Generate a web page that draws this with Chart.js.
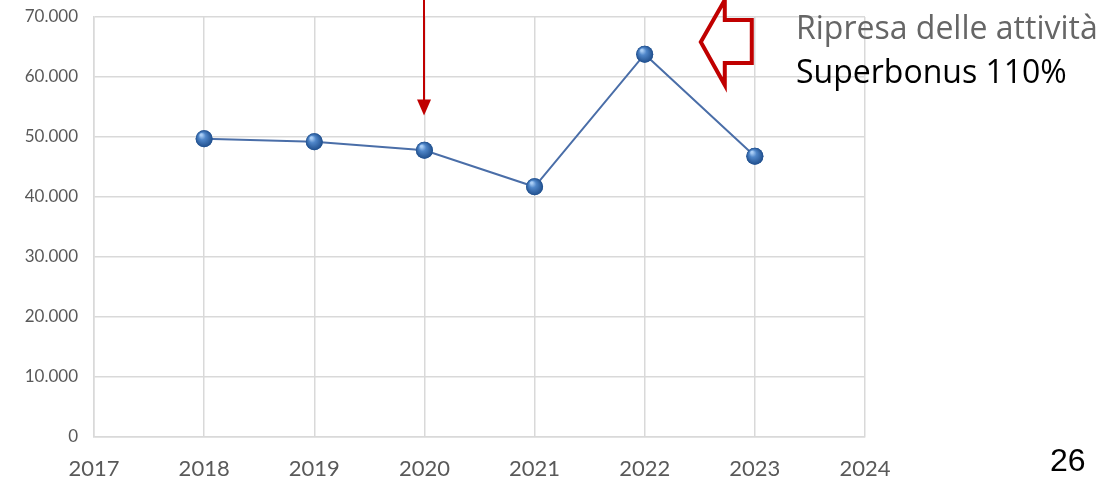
<!DOCTYPE html>
<html>
<head>
<meta charset="utf-8">
<script src="https://cdn.jsdelivr.net/npm/chart.js@4"></script>
<style>
  html, body { margin: 0; padding: 0; background: #fff; }
  #wrap { position: relative; width: 1117px; height: 482px; overflow: hidden; }
  #chart { position: absolute; left: 0; top: 0; }
  .note { position: absolute; font-family: "Open Sans", sans-serif; font-size: 32px; line-height: 1.362; white-space: nowrap; }
  .page { position: absolute; font-family: "Liberation Sans", Arial, sans-serif; font-size: 32px; color: #000; }
</style>
</head>
<body>
<div id="wrap">
  <canvas id="chart" width="1117" height="482"></canvas>
  <div class="note" style="left:796px; top:5px; color:#666;">Ripresa delle attività</div>
  <div class="note" style="left:796px; top:49px; color:#000;">Superbonus 110%</div>
  <div class="page" style="left:1050px; top:442px;">26</div>
</div>
<script>
  // yearly values
  const years = [2018, 2019, 2020, 2021, 2022, 2023];
  const values = [49700, 49200, 47800, 41700, 63800, 46800];
  const xMin = 2017, xMax = 2024;
  const yMin = 0, yMax = 70000, yStep = 10000;
  const markedYear = 2020;

  const gridColor = '#d9d9d9';
  const tickColor = '#595959';
  const red = '#c00000';

  function itNumber(v) {
    return String(v).replace(/\B(?=(\d{3})+(?!\d))/g, '.');
  }

  // glossy sphere markers on top of the plain points
  const spheres = {
    id: 'spheres',
    afterDatasetsDraw(chart) {
      const ctx = chart.ctx;
      chart.getDatasetMeta(0).data.forEach((pt) => {
        const r = 8.5;
        const g = ctx.createRadialGradient(pt.x - 3, pt.y - 4, 1, pt.x, pt.y, r);
        g.addColorStop(0, '#a9cdf5');
        g.addColorStop(0.35, '#4f86c9');
        g.addColorStop(1, '#1f4e8c');
        ctx.save();
        ctx.beginPath();
        ctx.arc(pt.x, pt.y, r, 0, Math.PI * 2);
        ctx.fillStyle = g;
        ctx.fill();
        ctx.restore();
      });
    }
  };

  // red callouts: down arrow on the marked year, outlined block arrow near the peak
  const callouts = {
    id: 'callouts',
    afterDraw(chart) {
      const ctx = chart.ctx;
      const xs = chart.scales.x, ys = chart.scales.y;
      const ax = Math.round(xs.getPixelForValue(markedYear));
      const tip = ys.getPixelForValue(53600);
      ctx.save();
      ctx.strokeStyle = red;
      ctx.fillStyle = red;
      ctx.lineWidth = 2;
      ctx.beginPath();
      ctx.moveTo(ax, 0);
      ctx.lineTo(ax, tip - 15);
      ctx.stroke();
      ctx.beginPath();
      ctx.moveTo(ax - 7, tip - 16);
      ctx.lineTo(ax + 7, tip - 16);
      ctx.lineTo(ax, tip);
      ctx.closePath();
      ctx.fill();

      const bx = xs.getPixelForValue(2022.5);
      ctx.lineWidth = 4;
      ctx.lineJoin = 'miter';
      ctx.beginPath();
      ctx.moveTo(bx + 1, 42);
      ctx.lineTo(bx + 25, 0);
      ctx.lineTo(bx + 25, 20);
      ctx.lineTo(bx + 52, 20);
      ctx.lineTo(bx + 52, 63);
      ctx.lineTo(bx + 25, 63);
      ctx.lineTo(bx + 25, 85);
      ctx.closePath();
      ctx.stroke();
      ctx.restore();
    }
  };

  new Chart(document.getElementById('chart'), {
    type: 'line',
    data: {
      datasets: [{
        data: years.map((y, i) => ({ x: y, y: values[i] })),
        borderColor: '#4a6ea8',
        borderWidth: 2,
        pointRadius: 8.5,
        pointBackgroundColor: '#3a6aa8',
        pointBorderWidth: 0,
        tension: 0
      }]
    },
    options: {
      responsive: false,
      animation: false,
      layout: { padding: { top: 17, right: 252, bottom: 0, left: 0 } },
      plugins: { legend: { display: false }, tooltip: { enabled: false } },
      scales: {
        x: {
          type: 'linear',
          min: xMin,
          max: xMax,
          afterFit: (s) => { s.height = 45; },
          grid: { color: gridColor, lineWidth: 1.5, drawTicks: false },
          border: { color: gridColor, width: 1.5 },
          ticks: {
            stepSize: 1,
            padding: 19,
            color: tickColor,
            font: { family: 'Lato', size: 22 },
            callback: (v) => String(v)
          }
        },
        y: {
          min: yMin,
          max: yMax,
          afterFit: (s) => { s.width = 94; s.paddingTop = 0; s.paddingBottom = 0; },
          grid: { color: gridColor, lineWidth: 1.5, drawTicks: false },
          border: { color: gridColor, width: 1.5 },
          ticks: {
            stepSize: yStep,
            padding: 16,
            color: tickColor,
            font: { family: 'Lato', size: 17 },
            callback: (v) => itNumber(v)
          }
        }
      }
    },
    plugins: [spheres, callouts]
  });
</script>
</body>
</html>
